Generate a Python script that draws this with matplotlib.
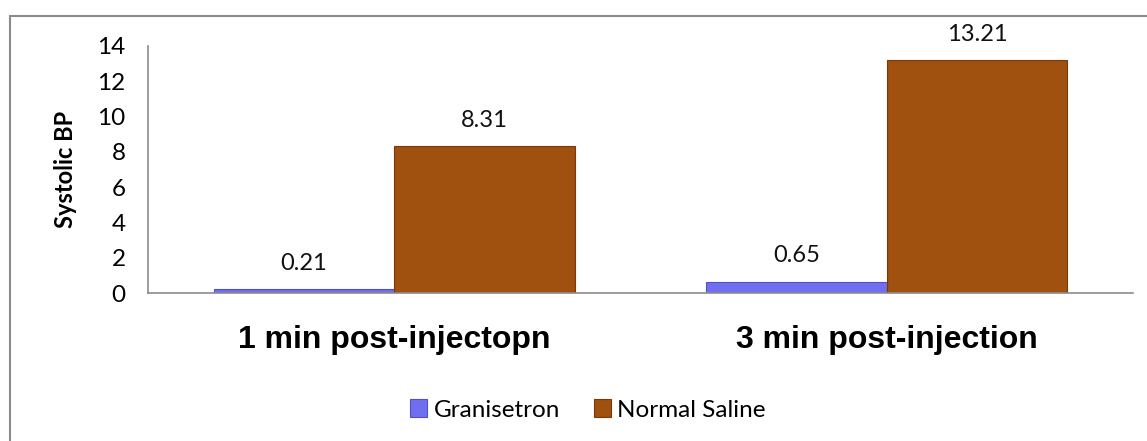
import matplotlib
matplotlib.use("Agg")
import matplotlib.pyplot as plt
from matplotlib.patches import Rectangle
import numpy as np

categories = ["1 min post-injectopn", "3 min post-injection"]
series_names = ["Granisetron", "Normal Saline"]
granisetron = [0.21, 0.65]
normal_saline = [8.31, 13.21]
y_ticks = [0, 2, 4, 6, 8, 10, 12, 14]

blue = "#6f6ff0"
brown = "#a0500f"

plt.rcParams["font.family"] = ["Lato", "DejaVu Sans"]

fig = plt.figure(figsize=(11.47, 4.41), dpi=100)
ax = fig.add_axes([148 / 1147, 1 - 293 / 441, (1133 - 148) / 1147, (293 - 46) / 441])

# outer chart border (cut off at right/bottom like the original)
fig.patches.append(Rectangle((10 / 1147, -0.1), 1.2, 1.1 - 16 / 441,
                             transform=fig.transFigure, fill=False,
                             edgecolor="#8c8c8c", linewidth=1.5))

x = np.arange(len(categories))
w = 0.366
b1 = ax.bar(x - w / 2, granisetron, w, color=blue, edgecolor="#5050c8",
            linewidth=0.8, label=series_names[0])
b2 = ax.bar(x + w / 2, normal_saline, w, color=brown, edgecolor="#7a3a08",
            linewidth=0.8, label=series_names[1])

for bars in (b1, b2):
    for rect in bars:
        h = rect.get_height()
        ax.annotate(f"{h:.2f}", (rect.get_x() + rect.get_width() / 2, h),
                    xytext=(0, 11), textcoords="offset points",
                    ha="center", va="bottom", fontsize=17, color="#111111")

ax.set_xlim(-0.5, 1.5)
ax.set_ylim(0, 14)
ax.set_yticks(y_ticks)
ax.set_yticklabels([str(t) for t in y_ticks], fontsize=17.5)
ax.set_xticks(x)
ax.set_xticklabels(categories, fontsize=23, fontweight="bold",
                   family=["Liberation Sans", "DejaVu Sans"])
ax.tick_params(axis="y", length=0, pad=16)
ax.tick_params(axis="x", length=0, pad=23)
ax.set_ylabel("Systolic BP", fontsize=17, fontweight="bold", labelpad=15)

for s in ("top", "right"):
    ax.spines[s].set_visible(False)
for s in ("left", "bottom"):
    ax.spines[s].set_color("#8c8c8c")
    ax.spines[s].set_linewidth(1.2)

fig.legend(loc="center", bbox_to_anchor=(588 / 1147, 1 - 410 / 441),
           ncol=2, frameon=False, fontsize=17.5, handlelength=0.7,
           handleheight=0.7, handletextpad=0.25, columnspacing=1.4)

fig.savefig("out.png", dpi=100)
plt.close(fig)
